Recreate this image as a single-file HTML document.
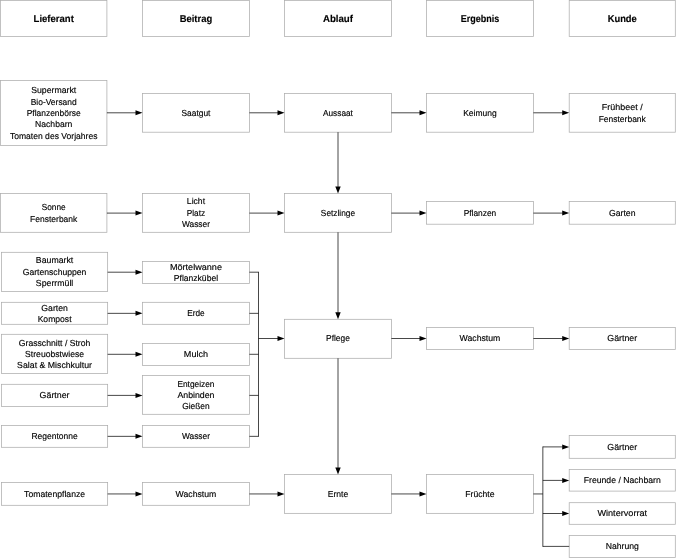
<!DOCTYPE html>
<html lang="de"><head><meta charset="utf-8"><title>SIPOC Tomaten</title>
<style>
html,body{margin:0;padding:0;background:#fff;}
svg{display:block;}
rect{fill:#fff;stroke:#adadad;stroke-width:0.75;}
text{stroke:#000;stroke-width:0.15px;text-rendering:geometricPrecision;font-family:"Liberation Sans",sans-serif;font-size:8.7px;fill:#000;text-anchor:middle;}
svg{will-change:transform;}
g.tx{filter:grayscale(1);}
text.h{font-size:10.0px;font-weight:bold;}
.ln{fill:none;stroke:#000;stroke-width:0.72;}
.hd{fill:#000;stroke:none;}
</style></head><body>
<svg width="676" height="558" viewBox="0 0 676 558">
<g>
<rect x="0.5" y="0.5" width="106.40" height="35.90"/>
<rect x="142.5" y="0.5" width="106.90" height="35.90"/>
<rect x="284.5" y="0.5" width="106.90" height="35.90"/>
<rect x="426.5" y="0.5" width="106.90" height="35.90"/>
<rect x="569.2" y="0.5" width="106.10" height="35.90"/>
<rect x="0.5" y="80.5" width="106.40" height="64.90"/>
<rect x="142.5" y="93.5" width="106.90" height="38.70"/>
<rect x="284.5" y="93.5" width="106.90" height="38.70"/>
<rect x="426.5" y="93.5" width="106.90" height="38.70"/>
<rect x="569.2" y="93.5" width="106.10" height="38.70"/>
<rect x="0.5" y="193.4" width="106.40" height="38.90"/>
<rect x="142.5" y="193.4" width="106.90" height="38.90"/>
<rect x="284.5" y="193.4" width="106.90" height="38.90"/>
<rect x="426.5" y="201.6" width="106.90" height="22.60"/>
<rect x="569.2" y="201.6" width="106.10" height="22.60"/>
<rect x="1.5" y="252.3" width="106.15" height="39.10"/>
<rect x="142.5" y="261.4" width="106.90" height="22.00"/>
<rect x="1.5" y="302.3" width="106.15" height="22.00"/>
<rect x="142.5" y="302.3" width="106.90" height="22.00"/>
<rect x="1.5" y="334.3" width="106.15" height="39.30"/>
<rect x="142.5" y="343.5" width="106.90" height="21.90"/>
<rect x="1.5" y="384.3" width="106.15" height="22.20"/>
<rect x="142.5" y="375.6" width="106.90" height="38.70"/>
<rect x="1.5" y="425.4" width="106.15" height="21.90"/>
<rect x="142.5" y="425.4" width="106.90" height="21.90"/>
<rect x="284.5" y="319.3" width="106.90" height="39.00"/>
<rect x="426.5" y="327.4" width="106.90" height="22.00"/>
<rect x="569.2" y="327.4" width="106.10" height="22.00"/>
<rect x="1.5" y="482.6" width="106.15" height="22.70"/>
<rect x="142.5" y="482.6" width="106.90" height="22.70"/>
<rect x="284.5" y="474.45" width="106.90" height="38.90"/>
<rect x="426.5" y="474.45" width="106.90" height="38.90"/>
<rect x="569.2" y="435.6" width="106.10" height="22.70"/>
<rect x="569.2" y="469.4" width="106.10" height="21.70"/>
<rect x="569.2" y="502.7" width="106.10" height="21.60"/>
<rect x="569.2" y="535.6" width="106.10" height="21.80"/>
</g>
<path class="ln" d="M106.9 112.8H136.0 M249.4 112.8H278.0 M391.4 112.8H420.0 M533.4 112.8H562.7 M106.9 213.1H136.0 M249.4 213.1H278.0 M391.4 213.1H420.0 M533.4 213.1H562.7 M107.65 272.2H136.0 M249.4 272.2H258.5 M107.65 313.35H136.0 M249.4 313.35H258.5 M107.65 354.3H136.0 M249.4 354.3H258.5 M107.65 395.4H136.0 M249.4 395.4H258.5 M107.65 436.35H136.0 M249.4 436.35H258.5 M258.5 271.84V436.71000000000004 M258.5 338.5H278.0 M391.4 338.5H420.0 M533.4 338.5H562.7 M107.65 493.95H136.0 M249.4 493.95H278.0 M391.4 493.95H420.0 M533.4 493.95H542.85 M542.85 446.53999999999996V546.76 M542.85 446.9H562.7 M542.85 480.4H562.7 M542.85 513.5H562.7 M542.85 546.4H569.2 M338.0 132.2V186.9 M338.0 232.3V312.8 M338.0 358.3V467.95"/>
<path class="hd" d="M142.5 112.8L135.50 110.30V115.30Z M284.5 112.8L277.50 110.30V115.30Z M426.5 112.8L419.50 110.30V115.30Z M569.2 112.8L562.20 110.30V115.30Z M142.5 213.1L135.50 210.60V215.60Z M284.5 213.1L277.50 210.60V215.60Z M426.5 213.1L419.50 210.60V215.60Z M569.2 213.1L562.20 210.60V215.60Z M142.5 272.2L135.50 269.70V274.70Z M142.5 313.35L135.50 310.85V315.85Z M142.5 354.3L135.50 351.80V356.80Z M142.5 395.4L135.50 392.90V397.90Z M142.5 436.35L135.50 433.85V438.85Z M284.5 338.5L277.50 336.00V341.00Z M426.5 338.5L419.50 336.00V341.00Z M569.2 338.5L562.20 336.00V341.00Z M142.5 493.95L135.50 491.45V496.45Z M284.5 493.95L277.50 491.45V496.45Z M426.5 493.95L419.50 491.45V496.45Z M569.2 446.9L562.20 444.40V449.40Z M569.2 480.4L562.20 477.90V482.90Z M569.2 513.5L562.20 511.00V516.00Z M338.0 193.4L335.30 186.40H340.70Z M338.0 319.3L335.30 312.30H340.70Z M338.0 474.45L335.30 467.45H340.70Z"/>
<g class="tx">
<text class="h" x="53.70" y="21.57" textLength="40.3" lengthAdjust="spacingAndGlyphs">Lieferant</text>
<text class="h" x="195.95" y="21.57" textLength="32.5" lengthAdjust="spacingAndGlyphs">Beitrag</text>
<text class="h" x="337.95" y="21.57" textLength="30.1" lengthAdjust="spacingAndGlyphs">Ablauf</text>
<text class="h" x="479.95" y="21.57" textLength="38.6" lengthAdjust="spacingAndGlyphs">Ergebnis</text>
<text class="h" x="622.25" y="21.57" textLength="29.1" lengthAdjust="spacingAndGlyphs">Kunde</text>
<text x="53.70" y="93.15" textLength="45.0" lengthAdjust="spacingAndGlyphs">Supermarkt</text>
<text x="53.70" y="104.55" textLength="46.0" lengthAdjust="spacingAndGlyphs">Bio-Versand</text>
<text x="53.70" y="115.95" textLength="54.0" lengthAdjust="spacingAndGlyphs">Pflanzenbörse</text>
<text x="53.70" y="127.35" textLength="37.3" lengthAdjust="spacingAndGlyphs">Nachbarn</text>
<text x="53.70" y="138.75" textLength="87.6" lengthAdjust="spacingAndGlyphs">Tomaten des Vorjahres</text>
<text x="195.95" y="115.50" textLength="29.0" lengthAdjust="spacingAndGlyphs">Saatgut</text>
<text x="337.95" y="115.50" textLength="29.9" lengthAdjust="spacingAndGlyphs">Aussaat</text>
<text x="479.95" y="115.50" textLength="33.5" lengthAdjust="spacingAndGlyphs">Keimung</text>
<text x="622.25" y="110.15" textLength="40.8" lengthAdjust="spacingAndGlyphs">Frühbeet /</text>
<text x="622.25" y="121.55" textLength="47.2" lengthAdjust="spacingAndGlyphs">Fensterbank</text>
<text x="53.70" y="210.15" textLength="23.9" lengthAdjust="spacingAndGlyphs">Sonne</text>
<text x="53.70" y="221.55" textLength="47.2" lengthAdjust="spacingAndGlyphs">Fensterbank</text>
<text x="195.95" y="204.45" textLength="18.2" lengthAdjust="spacingAndGlyphs">Licht</text>
<text x="195.95" y="215.85" textLength="18.4" lengthAdjust="spacingAndGlyphs">Platz</text>
<text x="195.95" y="227.25" textLength="28.0" lengthAdjust="spacingAndGlyphs">Wasser</text>
<text x="337.95" y="215.50" textLength="34.2" lengthAdjust="spacingAndGlyphs">Setzlinge</text>
<text x="479.95" y="215.55" textLength="32.6" lengthAdjust="spacingAndGlyphs">Pflanzen</text>
<text x="622.25" y="215.55" textLength="26.5" lengthAdjust="spacingAndGlyphs">Garten</text>
<text x="54.58" y="263.45" textLength="37.4" lengthAdjust="spacingAndGlyphs">Baumarkt</text>
<text x="54.58" y="274.85" textLength="63.7" lengthAdjust="spacingAndGlyphs">Gartenschuppen</text>
<text x="54.58" y="286.25" textLength="37.4" lengthAdjust="spacingAndGlyphs">Sperrmüll</text>
<text x="195.95" y="269.70" textLength="52.1" lengthAdjust="spacingAndGlyphs">Mörtelwanne</text>
<text x="195.95" y="281.10" textLength="44.2" lengthAdjust="spacingAndGlyphs">Pflanzkübel</text>
<text x="54.58" y="310.60" textLength="26.5" lengthAdjust="spacingAndGlyphs">Garten</text>
<text x="54.58" y="322.00" textLength="33.9" lengthAdjust="spacingAndGlyphs">Kompost</text>
<text x="195.95" y="315.95" textLength="17.4" lengthAdjust="spacingAndGlyphs">Erde</text>
<text x="54.58" y="345.55" textLength="71.5" lengthAdjust="spacingAndGlyphs">Grasschnitt / Stroh</text>
<text x="54.58" y="356.95" textLength="59.0" lengthAdjust="spacingAndGlyphs">Streuobstwiese</text>
<text x="54.58" y="368.35" textLength="74.9" lengthAdjust="spacingAndGlyphs">Salat &amp; Mischkultur</text>
<text x="195.95" y="357.10" textLength="24.2" lengthAdjust="spacingAndGlyphs">Mulch</text>
<text x="54.58" y="398.05" textLength="29.9" lengthAdjust="spacingAndGlyphs">Gärtner</text>
<text x="195.95" y="386.55" textLength="37.0" lengthAdjust="spacingAndGlyphs">Entgeizen</text>
<text x="195.95" y="397.95" textLength="37.1" lengthAdjust="spacingAndGlyphs">Anbinden</text>
<text x="195.95" y="409.35" textLength="27.5" lengthAdjust="spacingAndGlyphs">Gießen</text>
<text x="54.58" y="439.00" textLength="46.3" lengthAdjust="spacingAndGlyphs">Regentonne</text>
<text x="195.95" y="439.00" textLength="28.0" lengthAdjust="spacingAndGlyphs">Wasser</text>
<text x="337.95" y="341.45" textLength="23.7" lengthAdjust="spacingAndGlyphs">Pflege</text>
<text x="479.95" y="341.05" textLength="40.8" lengthAdjust="spacingAndGlyphs">Wachstum</text>
<text x="622.25" y="341.05" textLength="29.9" lengthAdjust="spacingAndGlyphs">Gärtner</text>
<text x="54.58" y="496.60" textLength="61.0" lengthAdjust="spacingAndGlyphs">Tomatenpflanze</text>
<text x="195.95" y="496.60" textLength="40.8" lengthAdjust="spacingAndGlyphs">Wachstum</text>
<text x="337.95" y="496.55" textLength="20.5" lengthAdjust="spacingAndGlyphs">Ernte</text>
<text x="479.95" y="496.55" textLength="29.2" lengthAdjust="spacingAndGlyphs">Früchte</text>
<text x="622.25" y="449.60" textLength="29.9" lengthAdjust="spacingAndGlyphs">Gärtner</text>
<text x="622.25" y="482.90" textLength="77.0" lengthAdjust="spacingAndGlyphs">Freunde / Nachbarn</text>
<text x="622.25" y="516.15" textLength="49.7" lengthAdjust="spacingAndGlyphs">Wintervorrat</text>
<text x="622.25" y="549.15" textLength="33.2" lengthAdjust="spacingAndGlyphs">Nahrung</text>
</g>
</svg>
</body></html>
